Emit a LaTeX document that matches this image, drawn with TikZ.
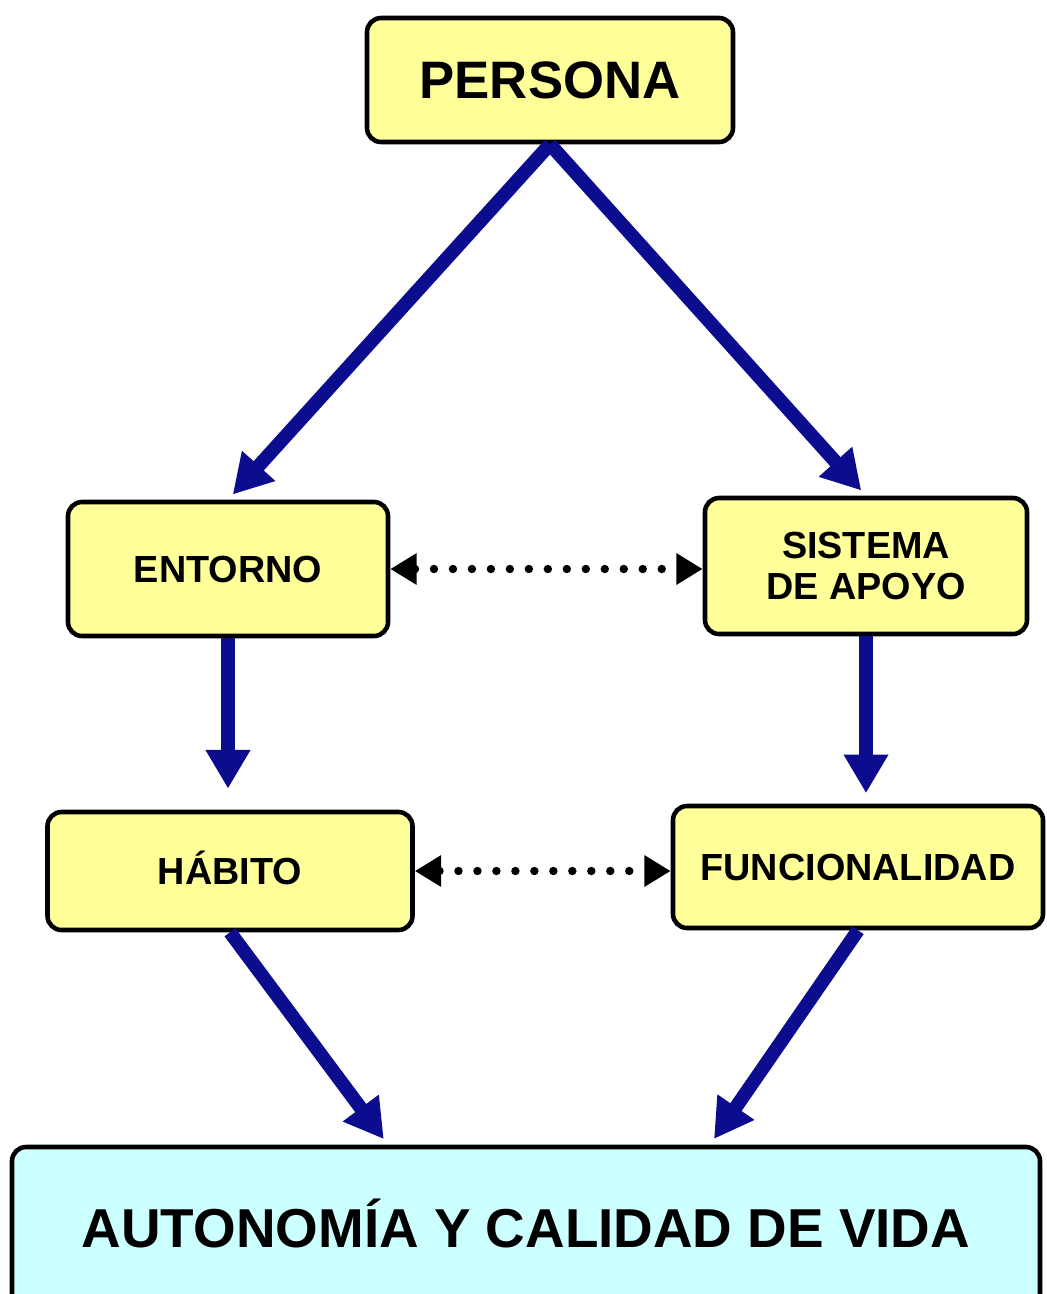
\documentclass[tikz,border=0pt]{standalone}
\usepackage{fontspec}
\setmainfont{Liberation Sans}
\usetikzlibrary{arrows.meta}
\definecolor{boxyellow}{RGB}{255,255,153}
\definecolor{boxcyan}{RGB}{204,255,255}
\definecolor{arrowblue}{RGB}{12,12,142}
\begin{document}
\begin{tikzpicture}
              \useasboundingbox (0,0) rectangle (20.94,-25.88);
              \clip (0,0) rectangle (20.94,-25.88);
              \begin{scope}[every node/.style={draw=black, line width=2.6pt, rounded corners=8pt, fill=boxyellow, align=center, inner sep=0pt, font=\bfseries\fontsize{21.5}{23}\selectfont}]
                \node[minimum width=7.32cm, minimum height=2.48cm, text height=21.5pt, text depth=0pt, font=\bfseries\fontsize{30}{32}\selectfont] (persona) at (11.0,-1.6) {PERSONA};
                \node[minimum width=6.4cm, minimum height=2.68cm, text height=15.4pt, text depth=0pt] (entorno) at (4.56,-11.38) {ENTORNO};
                \node[minimum width=6.44cm, minimum height=2.72cm] (apoyo) at (17.32,-11.32) {SISTEMA\\DE APOYO};
                \node[minimum width=7.3cm, minimum height=2.36cm, text height=15.4pt, text depth=0pt] (habito) at (4.6,-17.42) {HÁBITO};
                \node[minimum width=7.4cm, minimum height=2.44cm, text height=15.4pt, text depth=0pt] (funcionalidad) at (17.16,-17.34) {FUNCIONALIDAD};
                \node[minimum width=20.56cm, minimum height=3.24cm, text height=22.3pt, text depth=0pt, fill=boxcyan, font=\bfseries\fontsize{31.2}{33}\selectfont] (autonomia) at (10.52,-24.56) {AUTONOMÍA Y CALIDAD DE VIDA};
              \end{scope}
              \coordinate (vida1) at ([xshift=-2.76cm]autonomia.north);
              \coordinate (vida2) at ([xshift=3.68cm]autonomia.north);
              \begin{scope}[every edge/.style={draw=arrowblue, line width=7.8pt, -{Triangle[length=22pt, width=24pt]}}]
                \path (persona.south) edge[shorten >=4pt] (entorno.north);
                \path (persona.south) edge[shorten >=4pt] (apoyo.north);
                \path (entorno.south) edge[shorten >=12pt] (entorno.south |- habito.north);
                \path (apoyo.south) edge[shorten >=6pt] (apoyo.south |- funcionalidad.north);
                \path (habito.south) edge[shorten >=4pt] (vida1);
                \path (funcionalidad.south) edge[shorten >=4pt] (vida2);
              \end{scope}
              \begin{scope}[every edge/.style={draw=black, line width=4.8pt, line cap=round, dash pattern=on 0pt off 10.8pt, {Triangle[length=15pt, width=17pt]}-{Triangle[length=15pt, width=17pt]}}]
                \path (entorno.east) edge (entorno.east -| apoyo.west);
                \path (habito.east) edge (habito.east -| funcionalidad.west);
              \end{scope}
            \end{tikzpicture}
\end{document}
